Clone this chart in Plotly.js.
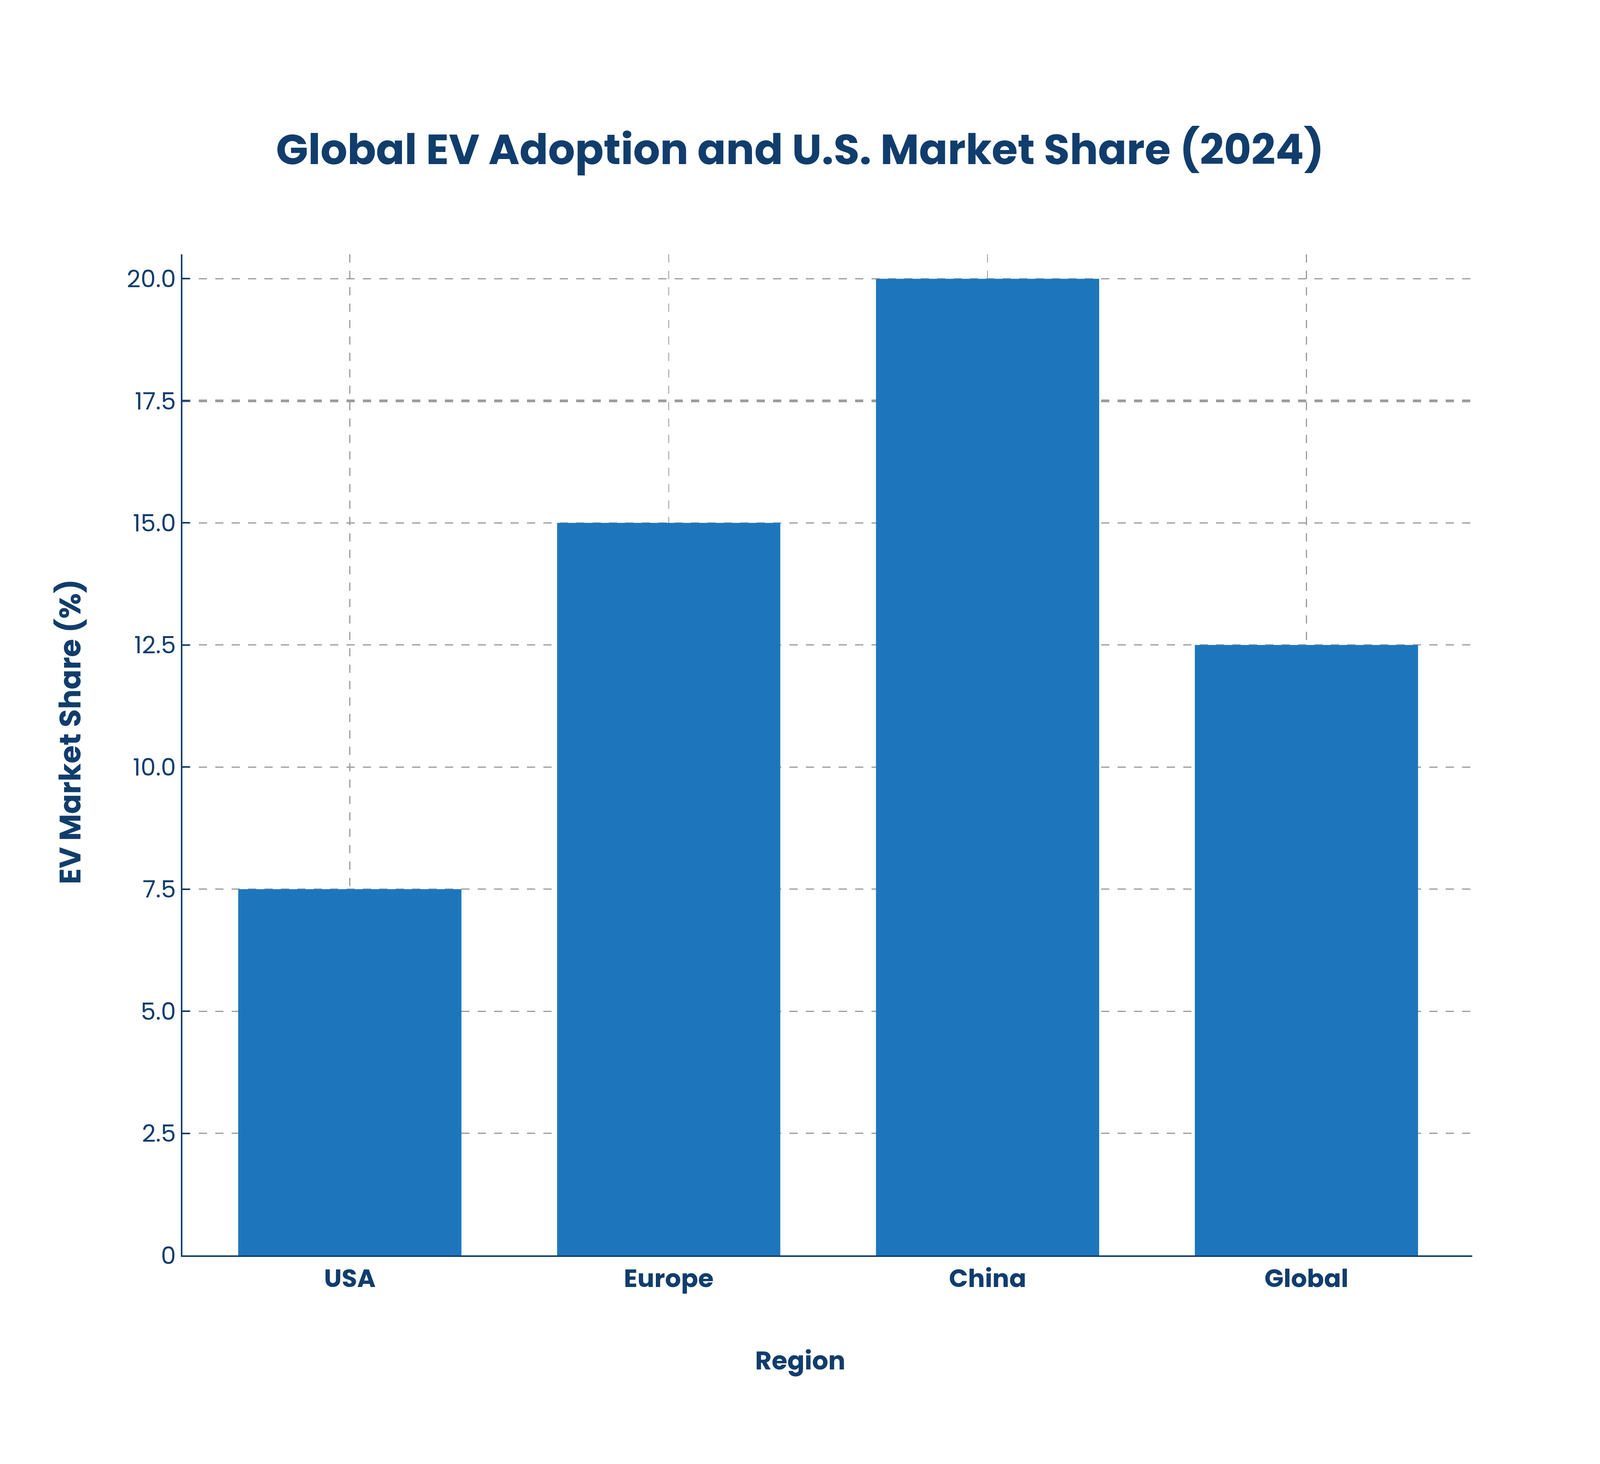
<!DOCTYPE html>
<html>
<head>
<meta charset="utf-8">
<script src="https://cdn.plot.ly/plotly-3.0.1.min.js"></script>
<style>
  html, body { margin: 0; padding: 0; background: #ffffff; overflow: hidden; }
  #chart_container { width: 100vw; height: 100vh; }
</style>
</head>
<body>
<div id="chart_container"></div>
<script>
// data
var regions = ['USA', 'Europe', 'China', 'Global'];
var evShare = [7.5, 15.0, 20.0, 12.5];
var yTickVals = [0, 2.5, 5, 7.5, 10, 12.5, 15, 17.5, 20];
var yTickText = ['0', '2.5', '5.0', '7.5', '10.0', '12.5', '15.0', '17.5', '20.0'];
var refLevel = 17.5;

var navy = '#113d6c';
var barBlue = '#1d76bc';
var gridGrey = '#9b9b9b';
var fontFamily = 'Poppins, "Open Sans", sans-serif';

// laid out for a 4782 x 3747 page; kx / ky scale it to the viewport we really get
var W = window.innerWidth;
var H = window.innerHeight;
var kx = W / 4782;
var ky = H / 3747;

var bars = {
	type: 'bar',
	x: regions,
	y: evShare,
	width: 0.7,
	marker: { color: barBlue, line: { width: 0 } },
	hoverinfo: 'x+y'
};

var dashPx = Math.round(25 * kx) + 'px,' + Math.round(25 * kx) + 'px';

var layout = {
	width: W,
	height: H,
	paper_bgcolor: '#ffffff',
	plot_bgcolor: '#ffffff',
	showlegend: false,
	margin: { l: 545 * kx, r: 382 * kx, t: 651 * ky, b: 534 * ky },
	font: { family: fontFamily, color: navy },
	title: {
		text: 'Global EV Adoption and U.S. Market Share (2024)',
		font: { family: fontFamily, size: 126 * kx, weight: 700, color: navy },
		x: 0.5,
		xanchor: 'center',
		y: 0.898,
		yanchor: 'middle'
	},
	xaxis: {
		type: 'category',
		range: [-0.525, 3.52],
		showline: true,
		linecolor: navy,
		linewidth: 5 * kx,
		ticks: '',
		showgrid: true,
		gridcolor: gridGrey,
		gridwidth: 3 * kx,
		griddash: dashPx,
		tickfont: { family: fontFamily, size: 75 * kx, weight: 700, color: navy },
		zeroline: false
	},
	yaxis: {
		range: [0, 20.5],
		tickmode: 'array',
		tickvals: yTickVals,
		ticktext: yTickText,
		ticksuffix: '\u00a0',
		showline: true,
		linecolor: navy,
		linewidth: 5 * kx,
		ticks: 'inside',
		ticklen: 22 * kx,
		tickwidth: 4 * ky,
		tickcolor: navy,
		showgrid: true,
		gridcolor: gridGrey,
		gridwidth: 3 * ky,
		griddash: dashPx,
		zeroline: false,
		tickfont: { family: fontFamily, size: 72 * kx, color: navy },
		ticklabelstandoff: 20 * kx
	},
	shapes: [{
		type: 'line',
		layer: 'below',
		xref: 'paper',
		yref: 'y',
		x0: 0,
		x1: 1,
		y0: refLevel,
		y1: refLevel,
		line: { color: gridGrey, width: 7 * ky, dash: dashPx }
	}],
	annotations: [{
		text: 'Region',
		xref: 'paper',
		yref: 'paper',
		x: 0.479,
		y: -0.105,
		xanchor: 'center',
		yanchor: 'middle',
		showarrow: false,
		font: { family: fontFamily, size: 76 * kx, weight: 700, color: navy }
	}, {
		text: 'EV Market Share (%)',
		xref: 'paper',
		yref: 'paper',
		x: -0.0872,
		y: 0.523,
		xanchor: 'center',
		yanchor: 'middle',
		textangle: -90,
		showarrow: false,
		font: { family: fontFamily, size: 75 * ky, weight: 700, color: navy }
	}]
};

Plotly.newPlot('chart_container', [bars], layout, { staticPlot: true, displayModeBar: false });
</script>
</body>
</html>
